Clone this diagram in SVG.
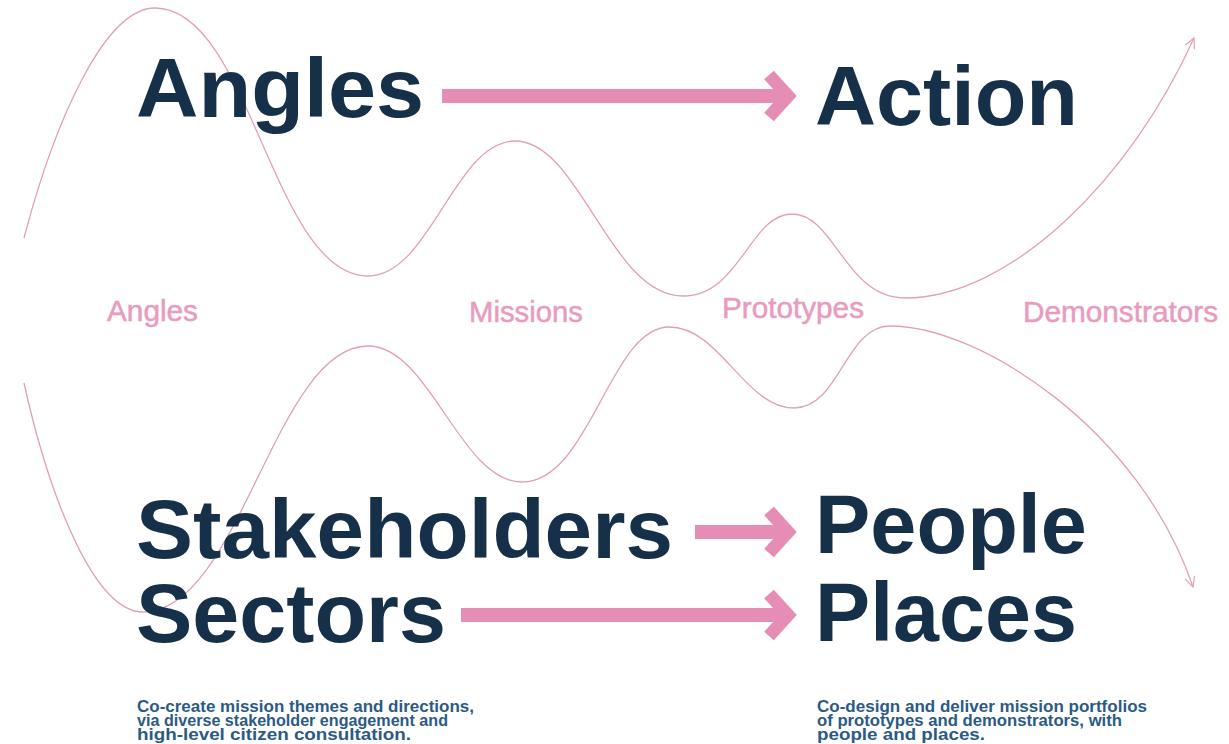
<svg xmlns="http://www.w3.org/2000/svg" width="1229" height="744" viewBox="0 0 1229 744">
<defs>
<style>
.big{font-family:"Liberation Sans",Arial,sans-serif;font-weight:700;font-size:84px;fill:#173049}
.lab{font-family:"Liberation Sans",Arial,sans-serif;font-size:29px;fill:#E89BBF;stroke:#E89BBF;stroke-width:0.5}
.desc{font-family:"Liberation Sans",Arial,sans-serif;font-weight:700;font-size:16.5px;fill:#2B5A85}
.wave{fill:none;stroke:#E0A0BD;stroke-width:1.3}
.shaft{stroke:#E68DB6;stroke-width:14;fill:none}
.head{stroke:#E68DB6;stroke-width:13;fill:none;stroke-linejoin:miter;stroke-miterlimit:10}
</style>
<marker id="open" viewBox="0 0 12 12" refX="11" refY="6" markerWidth="12" markerHeight="12" markerUnits="userSpaceOnUse" orient="auto">
<path d="M1,1 L11,6 L1,11" fill="none" stroke="#E0A0BD" stroke-width="1.2"/>
</marker>
</defs>
<rect width="1229" height="744" fill="#ffffff"/>

<g id="connectors">
<path class="wave" marker-end="url(#open)" d="M24,238 C55,120 105,8 155,8 C250,8 273,276 368,276 C430,276 455,141 515,141 C580,141 610,296 683,296 C740,296 750,214 792,214 C835,214 845,298 905,298 C1010,298 1130,180 1194,38"/>
<path class="wave" marker-end="url(#open)" d="M24,383 C50,500 95,612 143,612 C240,612 275,346 368,346 C430,346 460,482 522,482 C590,482 610,327 669,327 C720,327 745,408 794,408 C840,408 845,326 890,326 C980,326 1140,430 1193,587"/>
<g id="arrow-angles-action">
<line class="shaft" x1="442" y1="96" x2="783" y2="96"/>
<polyline class="head" points="769,75 788,96 769,117"/>
</g>
<g id="arrow-stakeholders-people">
<line class="shaft" x1="695" y1="532" x2="783" y2="532"/>
<polyline class="head" points="769,511 788,532 769,553"/>
</g>
<g id="arrow-sectors-places">
<line class="shaft" x1="461" y1="615" x2="783" y2="615"/>
<polyline class="head" points="769,594 788,615 769,636"/>
</g>
</g>

<g id="node-angles"><text class="big" x="136" y="117" textLength="288" lengthAdjust="spacingAndGlyphs">Angles</text></g>
<g id="node-action"><text class="big" x="815" y="125" textLength="263" lengthAdjust="spacingAndGlyphs">Action</text></g>
<g id="node-stakeholders"><text class="big" x="136" y="558" textLength="537" lengthAdjust="spacingAndGlyphs">Stakeholders</text></g>
<g id="node-people"><text class="big" x="815" y="553" textLength="272" lengthAdjust="spacingAndGlyphs">People</text></g>
<g id="node-sectors"><text class="big" x="136" y="642" textLength="310" lengthAdjust="spacingAndGlyphs">Sectors</text></g>
<g id="node-places"><text class="big" x="815" y="641" textLength="262" lengthAdjust="spacingAndGlyphs">Places</text></g>

<g id="stage-labels">
<text class="lab" x="107" y="321" textLength="91" lengthAdjust="spacingAndGlyphs">Angles</text>
<text class="lab" x="469" y="322" textLength="114" lengthAdjust="spacingAndGlyphs">Missions</text>
<text class="lab" x="722" y="318" textLength="142" lengthAdjust="spacingAndGlyphs">Prototypes</text>
<text class="lab" x="1023" y="322" textLength="195" lengthAdjust="spacingAndGlyphs">Demonstrators</text>
</g>

<g id="desc-left">
<text class="desc"><tspan x="137" y="712" textLength="337" lengthAdjust="spacingAndGlyphs">Co-create mission themes and directions,</tspan><tspan x="137" y="726" textLength="311" lengthAdjust="spacingAndGlyphs">via diverse stakeholder engagement and</tspan><tspan x="137" y="740" textLength="274" lengthAdjust="spacingAndGlyphs">high-level citizen consultation.</tspan></text>
</g>
<g id="desc-right">
<text class="desc"><tspan x="817" y="712" textLength="330" lengthAdjust="spacingAndGlyphs">Co-design and deliver mission portfolios</tspan><tspan x="817" y="726" textLength="305" lengthAdjust="spacingAndGlyphs">of prototypes and demonstrators, with</tspan><tspan x="817" y="740" textLength="168" lengthAdjust="spacingAndGlyphs">people and places.</tspan></text>
</g>
</svg>
